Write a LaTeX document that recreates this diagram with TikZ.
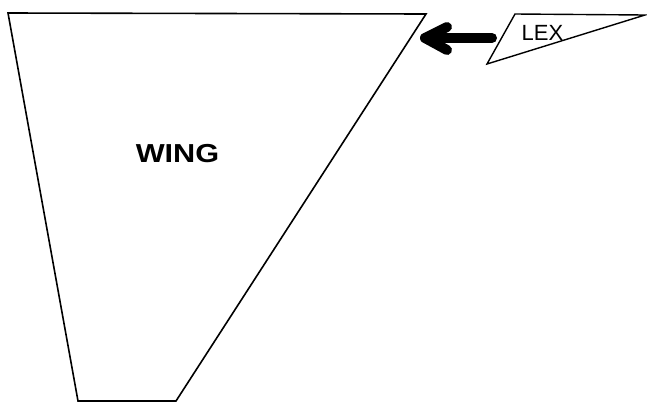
\documentclass[tikz,border=0pt]{standalone}
\usepackage{fontspec}
\setmainfont{Liberation Sans}
\begin{document}
\begin{tikzpicture}[x=1pt,y=-1pt,
  outline/.style={draw=black,line width=1.6pt,line join=miter},
  bigarrow/.style={draw=black,line width=10pt,line cap=round,line join=round},
  label/.style={inner sep=0pt,anchor=base}]
\useasboundingbox[fill=white] (0,0) rectangle (647,402);
% wing
\coordinate (w1) at (8,13);
\coordinate (w2) at (426,14);
\coordinate (w3) at (176,401);
\coordinate (w4) at (78,401);
\draw[outline] (w1) -- (w2) -- (w3) -- (w4) -- cycle;
\node[label,font=\bfseries\fontsize{26}{26}\selectfont,xscale=1.18] (wing) at (177.5,162) {WING};
% LEX
\coordinate (l1) at (515,14);
\coordinate (l2) at (645,15);
\coordinate (l3) at (487,64);
\draw[outline,line width=1.4pt] (l1) -- (l2) -- (l3) -- cycle;
\node[label,font=\fontsize{22}{22}\selectfont] (lex) at (542.5,40) {LEX};
% arrow
\coordinate (as) at (492,38);
\coordinate (at) at (425,38);
\coordinate (au) at (447,27);
\coordinate (ad) at (447,50);
\draw[bigarrow] (as) -- (at);
\draw[bigarrow] (au) -- (at) -- (ad);
\end{tikzpicture}
\end{document}
